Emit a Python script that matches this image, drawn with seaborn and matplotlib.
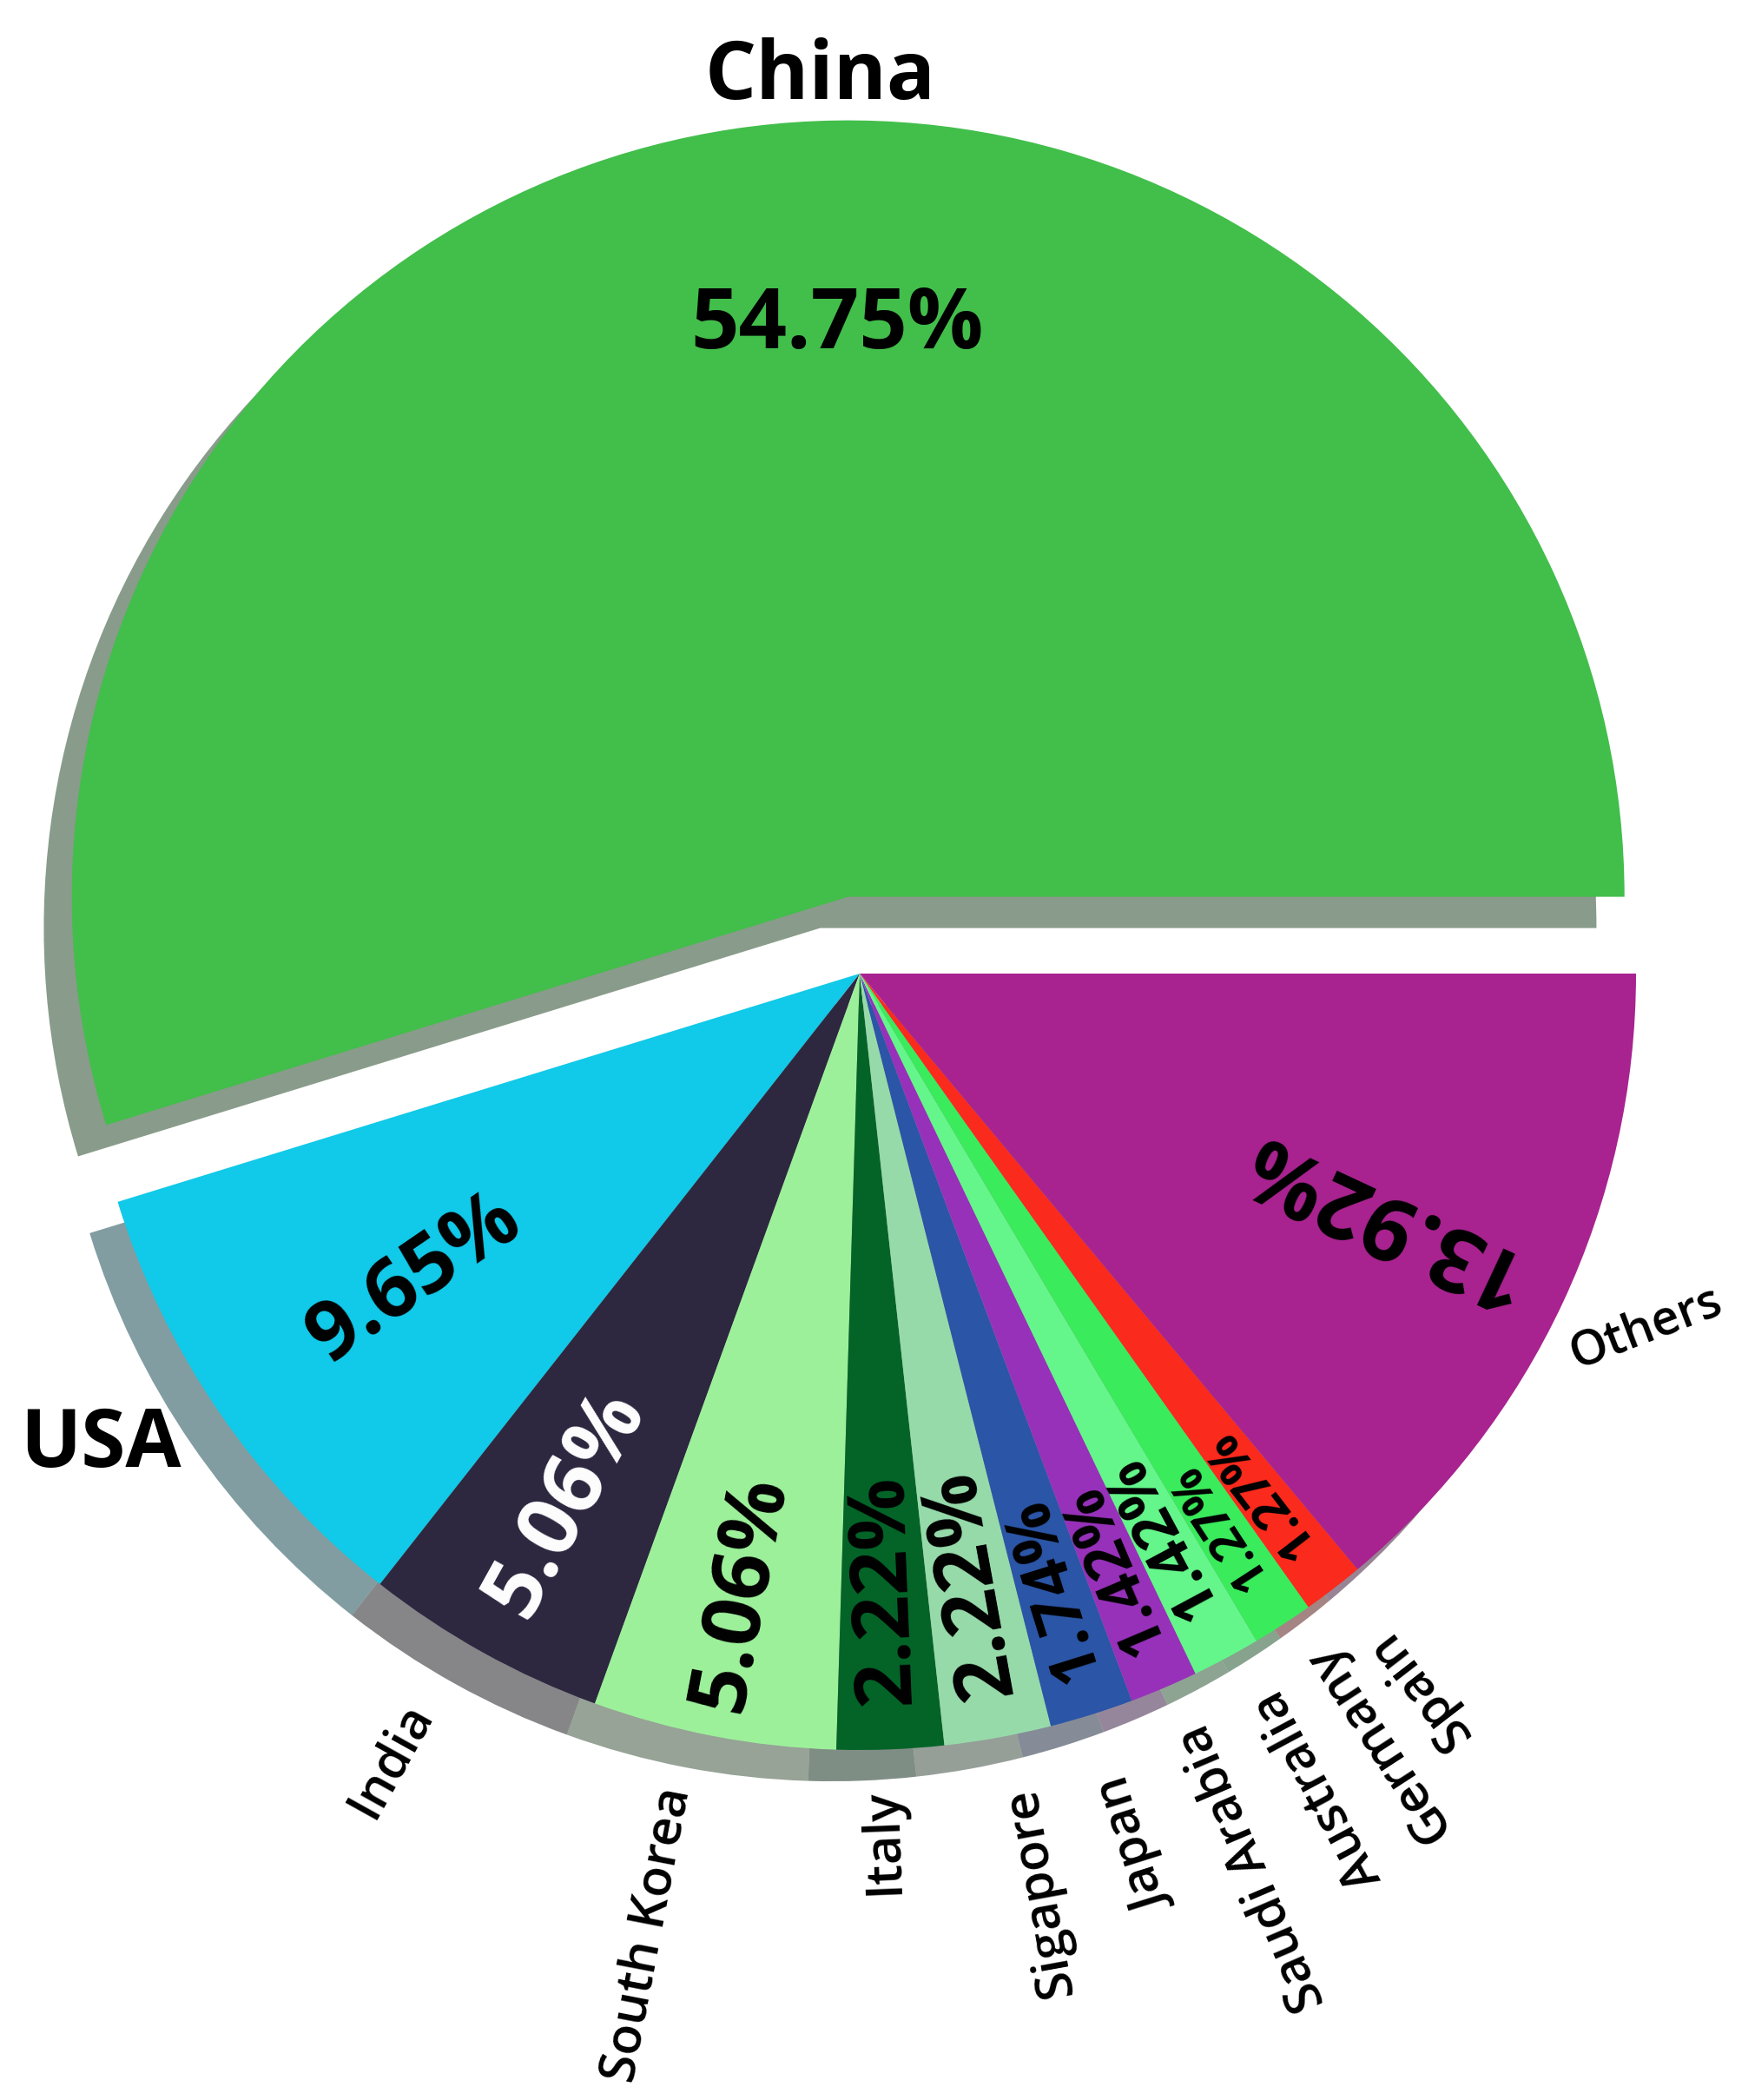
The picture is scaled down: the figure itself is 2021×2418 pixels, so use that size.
import numpy as np
import matplotlib
matplotlib.use("Agg")
import matplotlib.pyplot as plt
import seaborn as sns

# ---------------- data ----------------
countries = ["China", "USA", "India", "South Korea", "Italy", "Sigapore",
             "Japan", "Saudi Arabia", "Australia", "Germany", "Spain", "Others"]
shares = [54.75, 9.65, 5.06, 5.06, 2.22, 2.22, 1.74, 1.42, 1.42, 1.27, 1.27, 13.92]
pct_texts = ["54.75%", "9.65%", "5.06%", "5.06%", "2.22%", "2.22%",
             "1.74%", "1.42%", "1.42%", "1.27%", "1.27%", "13.92%"]
wedge_colors = ["#42BE4B", "#11C9E8", "#2D2840", "#9DF09A", "#046428", "#97DAAA",
                "#2B55A6", "#9731BA", "#64F68A", "#3AEB5C", "#FA2A1C", "#A8238F"]

# ---------------- style ----------------
explode = [0.1, 0, 0, 0, 0, 0, 0, 0, 0, 0, 0, 0]
pct_size = [70, 68, 70, 68, 66, 66, 54, 51, 50, 40, 42, 72]
pct_dist = [0.735, 0.695, 0.78, 0.813, 0.794, 0.799, 0.83, 0.833, 0.822, 0.848, 0.845, 0.741]
pct_dang = [-7.4, 0, 0, 0, 0, 0, 0, 0, 0, 0, 0, 0]
pct_color = ["black", "black", "white", "black", "black", "black",
             "black", "black", "black", "black", "black", "black"]
# free (non-radial) labels: distance, angle offset, rotation, size
free_labels = {
    "China": dict(d=1.056, dang=-6.6, rot=0, size=67, weight="bold"),
    "USA": dict(d=1.151, dang=-2.6, rot=0, size=67, weight="bold"),
    "Others": dict(d=1.112, dang=0.8, rot=21, size=40, weight="semibold"),
}
label_size = 42
# radial labels: (distance of inner end, angle offset in degrees)
radial_pos = {
    "India": (1.10, -1.0),
    "South Korea": (1.075, -1.0),
    "Italy": (1.05, 0.15),
    "Sigapore": (1.07, 1.85),
    "Japan": (1.09, 1.2),
    "Saudi Arabia": (1.06, 1.7),
    "Australia": (1.065, 2.2),
    "Germany": (1.05, 2.0),
    "Spain": (1.083, 1.35),
}

sns.set_theme(style="white")
plt.rcParams["font.family"] = ["Open Sans", "DejaVu Sans"]

W, H, DPI = 2021, 2418, 100
fig = plt.figure(figsize=(W / DPI, H / DPI), dpi=DPI)
ax = fig.add_axes([0, 0, 1, 1])

palette = sns.color_palette(wedge_colors)
wedges, _ = ax.pie(shares, explode=explode, colors=palette, startangle=0,
                   counterclock=True, radius=1,
                   shadow={"ox": -0.026, "oy": -0.029},
                   wedgeprops=dict(linewidth=0))

# place pie: centre at (990, 1121) px from top-left, radius 894 px
cx_px, cy_px, r_px = 990, 1121, 894
ax.set_xlim(-cx_px / r_px, (W - cx_px) / r_px)
ax.set_ylim(-(H - cy_px) / r_px, cy_px / r_px)
ax.set_aspect("auto")
ax.axis("off")

for i, w in enumerate(wedges):
    thm = 0.5 * (w.theta1 + w.theta2)
    cx, cy = w.center
    r = w.r
    # percentage text
    a = np.deg2rad(thm + pct_dang[i])
    px = cx + pct_dist[i] * r * np.cos(a)
    py = cy + pct_dist[i] * r * np.sin(a)
    rot = 0 if countries[i] == "China" else (thm + 180) % 360
    ax.text(px, py, pct_texts[i], rotation=rot, rotation_mode="anchor",
            ha="center", va="center", fontsize=pct_size[i],
            fontweight="bold", color=pct_color[i])
    # category label
    name = countries[i]
    if name in free_labels:
        f = free_labels[name]
        a = np.deg2rad(thm + f["dang"])
        lx = cx + f["d"] * r * np.cos(a)
        ly = cy + f["d"] * r * np.sin(a)
        ax.text(lx, ly, name, rotation=f["rot"], rotation_mode="anchor",
                ha="center", va="center", fontsize=f["size"],
                fontweight=f["weight"], color="black")
    else:
        d, dang = radial_pos[name]
        a = np.deg2rad(thm + dang)
        lx = cx + d * r * np.cos(a)
        ly = cy + d * r * np.sin(a)
        ax.text(lx, ly, name, rotation=(thm + 180) % 360, rotation_mode="anchor",
                ha="right", va="baseline", fontsize=label_size,
                fontweight="semibold", color="black")

fig.savefig("out.png", dpi=DPI, facecolor="white")
